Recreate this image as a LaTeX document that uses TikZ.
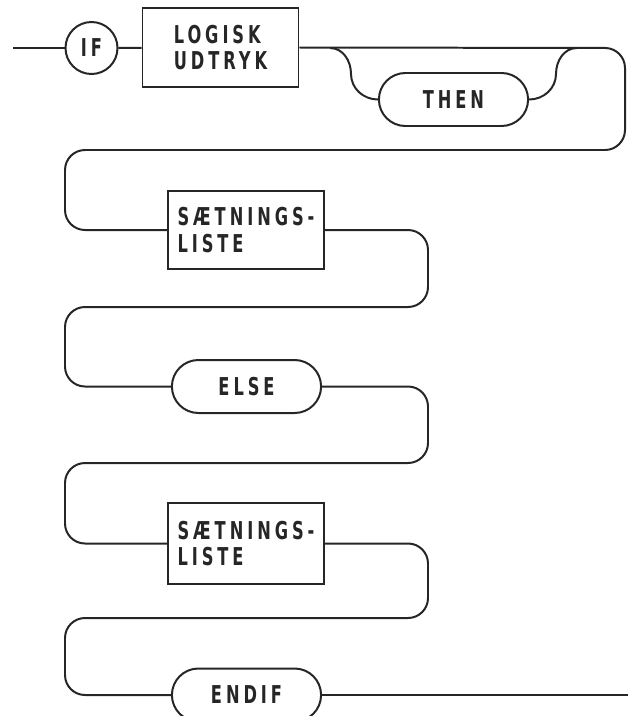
\documentclass[tikz,border=0pt]{standalone}
\usepackage{fontspec}
\newfontfamily\stencil[FakeStretch=0.66,LetterSpace=16]{DejaVu Sans}
\usetikzlibrary{shapes.misc,shapes.geometric}
\tikzset{
  track/.style={line width=1.7pt, draw=black!85, rounded corners=6mm},
  bracket/.style={line width=1.7pt, draw=black!85, sharp corners},
  box/.style={
    draw=black!85, line width=1.7pt, rectangle, align=left,
    minimum width=46.8mm, minimum height=23.6mm, text=black!85,
    font=\stencil\bfseries\fontsize{21pt}{22.5pt}\selectfont
  },
  pill/.style={
    draw=black!85, line width=1.7pt, rounded rectangle,
    minimum width=47.1mm, minimum height=15.9mm, text=black!85,
    font=\stencil\bfseries\fontsize{21pt}{22.5pt}\selectfont
  },
  ring/.style={
    draw=black!85, line width=1.7pt, circle, inner sep=0pt,
    minimum size=15.6mm, text=black!85,
    font=\stencil\bfseries\fontsize{21pt}{22.5pt}\selectfont
  }
}
\begin{document}
\begin{tikzpicture}[x=0.3mm,y=-0.3mm]
  \useasboundingbox (0,0) rectangle (628,716);

  \coordinate (start) at (13,48);
  \coordinate (stop) at (628,695);
  \node[ring] (ifkw) at (91.5,48) {IF};
  \node[box] (expr) at (220.5,47.5) {LOGISK\\UDTRYK};
  \node[pill] (then) at (453.5,99.5) {THEN};
  \node[box, minimum height=23.4mm] (list1) at (246,230) {SÆTNINGS-\\LISTE};
  \node[pill] (else) at (246.5,386.5) {ELSE};
  \node[box, minimum height=24.3mm] (list2) at (246,543.5) {SÆTNINGS-\\LISTE};
  \node[pill] (endif) at (246.5,695) {ENDIF};

  \coordinate (tl) at (330,48);
  \coordinate (tr) at (577,48);

  \draw[track] (start) -- (ifkw);
  \draw[track] (ifkw) -- (expr);
  % optional THEN
  \draw[bracket] (tl) to[out=0,in=90] (351,74) to[out=-90,in=180] (then.west);
  \draw[bracket] (then.east) to[out=0,in=-90] (556,74) to[out=90,in=180] (tr);
  % serpentine
  \draw[track] (expr.east) -- (625,48) -- (625,150) -- (65,150) -- (65,230) -- (list1.west);
  \draw[track] (list1.east) -- (428,230) -- (428,307) -- (65,307) -- (65,386.5) -- (else.west);
  \draw[track] (else.east) -- (428,386.5) -- (428,463) -- (65,463) -- (65,543.5) -- (list2.west);
  \draw[track] (list2.east) -- (428,543.5) -- (428,618) -- (65,618) -- (65,695) -- (endif.west);
  \draw[track] (endif.east) -- (stop);
\end{tikzpicture}
\end{document}
